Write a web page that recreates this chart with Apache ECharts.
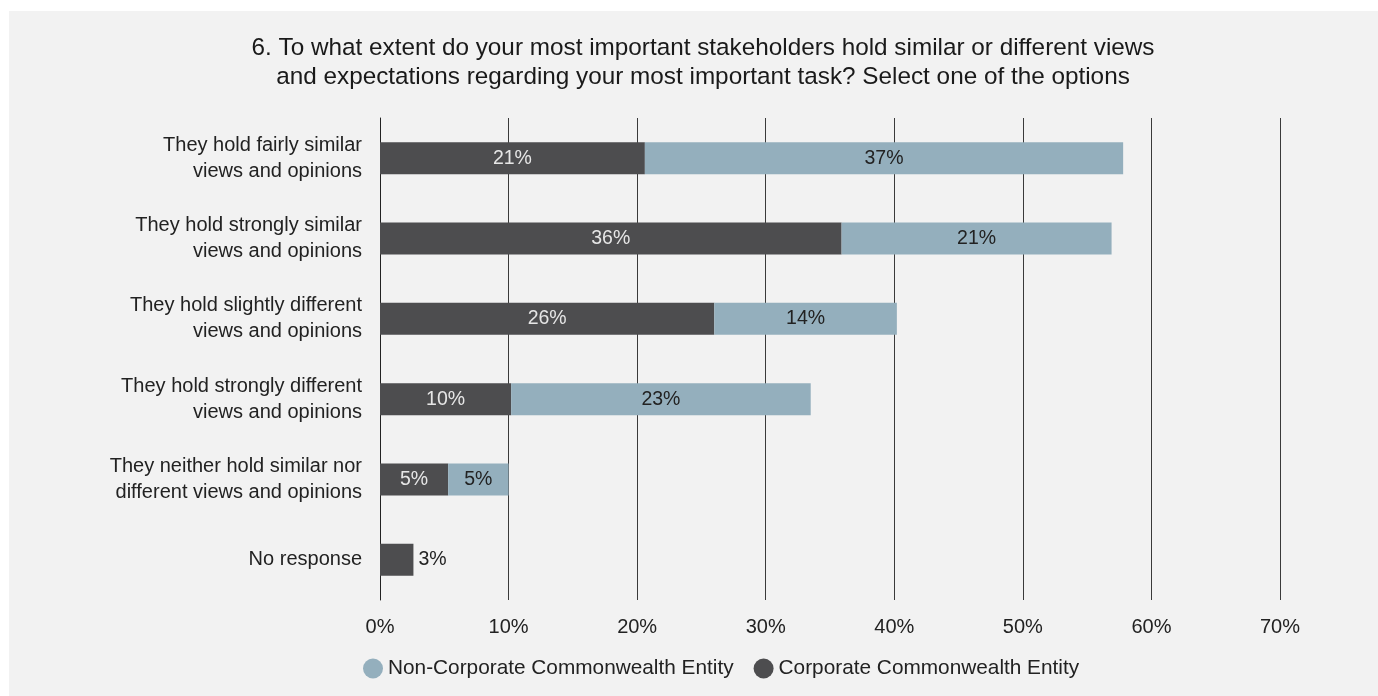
<!DOCTYPE html>
<html>
<head>
<meta charset="utf-8">
<script src="https://cdn.jsdelivr.net/npm/echarts@6/dist/echarts.min.js"></script>
<style>
  html, body { margin: 0; padding: 0; background: #ffffff; width: 1378px; height: 696px; overflow: hidden; }
  #chart { position: absolute; left: 9px; top: 11px; width: 1369px; height: 685px; background: #f2f2f2; }
</style>
</head>
<body>
<div id="chart"></div>
<script>
const titleText = "6. To what extent do your most important stakeholders hold similar or different views\nand expectations regarding your most important task? Select one of the options";
const categories = [
  "They hold fairly similar\nviews and opinions",
  "They hold strongly similar\nviews and opinions",
  "They hold slightly different\nviews and opinions",
  "They hold strongly different\nviews and opinions",
  "They neither hold similar nor\ndifferent views and opinions",
  "No response"
];
const corporate = [20.6, 35.9, 26.0, 10.2, 5.3, 2.6];
const nonCorporate = [37.2, 21.0, 14.2, 23.3, 4.7, null];
const seriesNames = ["Non-Corporate Commonwealth Entity", "Corporate Commonwealth Entity"];
const xTicks = [0, 10, 20, 30, 40, 50, 60, 70];

const FONT = "'Liberation Sans', Arial, sans-serif";
const DARK = "#4d4d4f";
const LIGHT = "#94afbd";

const chart = echarts.init(document.getElementById('chart'), null, { renderer: 'canvas' });

const corpData = corporate.map((v, i) => {
  if (i === corporate.length - 1) {
    return { value: v, label: { position: 'right', color: '#222222', distance: 5 } };
  }
  return v;
});

chart.setOption({
  animation: false,
  backgroundColor: '#f2f2f2',
  title: {
    text: titleText,
    left: 689,
    top: 18,
    textAlign: 'center',
    textStyle: { fontFamily: FONT, fontSize: 24.3, fontWeight: 'normal', color: '#1a1a1a', lineHeight: 29, align: 'center' }
  },
  legend: {
    data: seriesNames,
    left: 354,
    top: 647,
    itemWidth: 20,
    itemHeight: 20,
    itemGap: 20,
    icon: 'circle',
    textStyle: { fontFamily: FONT, fontSize: 20.8, color: '#222222' },
    padding: 0,
    selectedMode: false
  },
  grid: { left: 371, top: 107, width: 900, height: 482, containLabel: false },
  xAxis: {
    type: 'value',
    min: xTicks[0],
    max: xTicks[xTicks.length - 1],
    interval: 10,
    axisLine: { show: false },
    axisTick: { show: false },
    splitLine: { show: true, lineStyle: { color: '#3a3a3a', width: 1 } },
    axisLabel: {
      fontFamily: FONT, fontSize: 20, color: '#222222', margin: 17,
      formatter: v => v + '%'
    }
  },
  yAxis: {
    type: 'category',
    data: categories,
    inverse: true,
    axisLine: { show: true, lineStyle: { color: '#222222', width: 1 } },
    axisTick: { show: false },
    axisLabel: {
      fontFamily: FONT, fontSize: 20, color: '#222222', margin: 18,
      lineHeight: 26, align: 'right'
    }
  },
  series: [
    {
      name: seriesNames[1],
      type: 'bar',
      stack: 'total',
      barWidth: 32,
      data: corpData,
      itemStyle: { color: DARK },
      label: {
        show: true,
        position: 'inside',
        fontFamily: FONT, fontSize: 19.5, color: '#e6e6e6',
        formatter: p => Math.round(p.value) + '%'
      },
      z: 3
    },
    {
      name: seriesNames[0],
      type: 'bar',
      stack: 'total',
      barWidth: 32,
      data: nonCorporate,
      itemStyle: { color: LIGHT },
      label: {
        show: true,
        position: 'inside',
        fontFamily: FONT, fontSize: 19.5, color: '#222222',
        formatter: p => p.value == null ? '' : Math.round(p.value) + '%'
      },
      z: 3
    }
  ]
});
</script>
</body>
</html>
